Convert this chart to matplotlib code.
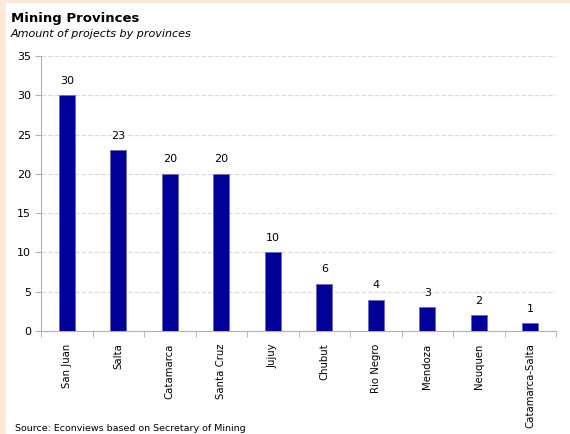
import matplotlib
matplotlib.use('Agg')
import matplotlib.pyplot as plt
from matplotlib.patches import Rectangle

provinces = ['San Juan', 'Salta', 'Catamarca', 'Santa Cruz', 'Jujuy', 'Chubut',
             'Rio Negro', 'Mendoza', 'Neuquen', 'Catamarca-Salta']
projects = [30, 23, 20, 20, 10, 6, 4, 3, 2, 1]
y_ticks = [0, 5, 10, 15, 20, 25, 30, 35]

plt.rcParams['font.family'] = ['DejaVu Sans']

fig = plt.figure(figsize=(5.7, 4.34), dpi=100)
fig.patch.set_facecolor('white')

# peach frame on the left and top
fig.patches.append(Rectangle((0, 0), 6 / 570, 1, transform=fig.transFigure,
                             facecolor='#fde9d9', edgecolor='none', zorder=0))
fig.patches.append(Rectangle((0, 1 - 3 / 434), 1, 3 / 434, transform=fig.transFigure,
                             facecolor='#fde9d9', edgecolor='none', zorder=0))

ax = fig.add_axes([41 / 570, 1 - 331 / 434, 515 / 570, 275 / 434])
x = range(len(provinces))
bars = ax.bar(x, projects, width=0.32, color='#000099', edgecolor='#6a6ac8',
              linewidth=0.6, zorder=3)

for xi, v in zip(x, projects):
    ax.text(xi, v + 1.2, str(v), ha='center', va='bottom', fontsize=8)

ax.set_xlim(-0.5, len(provinces) - 0.5)
ax.set_ylim(0, 35)
ax.set_yticks(y_ticks)
ax.tick_params(axis='y', labelsize=8, length=4, color='#b0b0b0', pad=3)
ax.yaxis.grid(True, linestyle=(0, (4, 2)), color='#d9d9d9', linewidth=0.8, zorder=0)

# category labels centered, tick marks at category boundaries
ax.set_xticks(list(x))
ax.set_xticklabels(provinces, rotation=90, fontsize=7.3)
ax.tick_params(axis='x', length=0, pad=9)
ax.set_xticks([i - 0.5 for i in range(len(provinces) + 1)], minor=True)
ax.tick_params(axis='x', which='minor', length=4, color='#b0b0b0')

for side in ['top', 'right']:
    ax.spines[side].set_visible(False)
for side in ['left', 'bottom']:
    ax.spines[side].set_color('#b0b0b0')

fig.text(11 / 570, 1 - 22 / 434, 'Mining Provinces', fontsize=9.5, fontweight='bold')
fig.text(11 / 570, 1 - 37 / 434, 'Amount of projects by provinces', fontsize=8,
         style='italic')
fig.text(15 / 570, 1 - 431 / 434, 'Source: Econviews based on Secretary of Mining',
         fontsize=6.8)

fig.savefig('out.png', dpi=100)
